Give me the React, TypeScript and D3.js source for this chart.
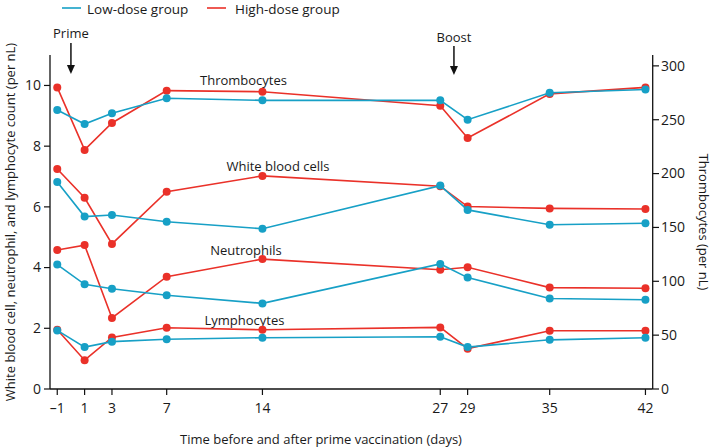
import React from "react";
import * as d3 from "d3";

const days = [-1, 1, 3, 7, 14, 27, 29, 35, 42];
const xTicks = [-1, 1, 3, 7, 14, 27, 29, 35, 42];
const leftTicks = [0, 2, 4, 6, 8, 10];
const rightTicks = [0, 50, 100, 150, 200, 250, 300];

const thrombLow = [259, 246, 256, 270, 268, 268, 250, 275, 278];
const thrombHigh = [280, 222, 247, 277, 276, 263, 233, 274, 280];
const wbcLow = [6.82, 5.68, 5.73, 5.51, 5.28, 6.70, 5.90, 5.41, 5.46];
const wbcHigh = [7.25, 6.30, 4.78, 6.50, 7.02, 6.68, 6.01, 5.95, 5.93];
const neutLow = [4.10, 3.45, 3.30, 3.09, 2.82, 4.12, 3.67, 2.98, 2.94];
const neutHigh = [4.58, 4.74, 2.34, 3.70, 4.28, 3.93, 4.01, 3.34, 3.32];
const lymphLow = [1.93, 1.38, 1.56, 1.64, 1.69, 1.72, 1.38, 1.62, 1.69];
const lymphHigh = [1.95, 0.95, 1.70, 2.02, 1.95, 2.03, 1.33, 1.92, 1.92];

const LOW = "#17a0c6";
const HIGH = "#ea3129";
const FONT = "'Open Sans', 'DejaVu Sans', sans-serif";
const TXT = "#1a1a1a";

export default function App() {
  const W = 712, H = 448;
  const x = d3.scaleLinear().domain([-1.53, 42.53]).range([50, 652.7]);
  const yL = d3.scaleLinear().domain([0, 11]).range([389, 55.1]);
  const yR = d3.scaleLinear().domain([0, 310]).range([389, 55.1]);

  const series: { vals: number[]; y: d3.ScaleLinear<number, number>; color: string }[] = [
    { vals: thrombLow, y: yR, color: LOW },
    { vals: thrombHigh, y: yR, color: HIGH },
    { vals: wbcLow, y: yL, color: LOW },
    { vals: wbcHigh, y: yL, color: HIGH },
    { vals: neutLow, y: yL, color: LOW },
    { vals: neutHigh, y: yL, color: HIGH },
    { vals: lymphLow, y: yL, color: LOW },
    { vals: lymphHigh, y: yL, color: HIGH },
  ];

  const order = [1, 0, 3, 2, 5, 4, 7, 6];

  return (
    <svg width={W} height={H} style={{ position: "absolute", left: 0, top: 0 }} fontFamily={FONT}>
      <rect width={W} height={H} fill="#fff" />
      {/* legend */}
      <line x1={62} x2={81} y1={8} y2={8} stroke={LOW} strokeWidth={1.6} />
      <text x={87} y={9} dy="0.35em" fontSize={13.5} fill={TXT}>Low-dose group</text>
      <line x1={207} x2={226} y1={8} y2={8} stroke={HIGH} strokeWidth={1.6} />
      <text x={235} y={9} dy="0.35em" fontSize={13.5} fill={TXT}>High-dose group</text>

      {/* axes */}
      <line x1={50} x2={50} y1={55.1} y2={389} stroke="#111" strokeWidth={1.3} />
      <line x1={652.7} x2={652.7} y1={55.1} y2={389} stroke="#111" strokeWidth={1.3} />
      <line x1={50} x2={652.7} y1={389} y2={389} stroke="#111" strokeWidth={1.3} />
      {leftTicks.map((t) => (
        <g key={"l" + t}>
          <line x1={44} x2={50} y1={yL(t)} y2={yL(t)} stroke="#111" strokeWidth={1.2} />
          <text x={41} y={yL(t)} dy="0.35em" textAnchor="end" fontSize={14} fill={TXT}>{t}</text>
        </g>
      ))}
      {rightTicks.map((t) => (
        <g key={"r" + t}>
          <line x1={652.7} x2={659} y1={yR(t)} y2={yR(t)} stroke="#111" strokeWidth={1.2} />
          <text x={661} y={yR(t)} dy="0.35em" textAnchor="start" fontSize={14} fill={TXT}>{t}</text>
        </g>
      ))}
      {xTicks.map((t) => (
        <g key={"x" + t}>
          <line x1={x(t)} x2={x(t)} y1={389} y2={395} stroke="#111" strokeWidth={1.2} />
          <text x={x(t)} y={408} dy="0.35em" textAnchor="middle" fontSize={14} fill={TXT}>{t < 0 ? "\u2013" + Math.abs(t) : t}</text>
        </g>
      ))}
      <text x={321} y={439} dy="0.35em" textAnchor="middle" fontSize={13} fill={TXT}>Time before and after prime vaccination (days)</text>
      <text transform={`translate(10,222) rotate(-90)`} dy="0.35em" textAnchor="middle" fontSize={13} fill={TXT}>White blood cell, neutrophil, and lymphocyte count (per nL)</text>
      <text transform={`translate(704,222) rotate(90)`} dy="0.35em" textAnchor="middle" fontSize={13} fill={TXT}>Thrombocytes (per nL)</text>

      {/* annotations */}
      <text x={x(0)} y={33} dy="0.35em" textAnchor="middle" fontSize={13} fill={TXT}>Prime</text>
      <line x1={x(0)} x2={x(0)} y1={43} y2={66} stroke="#111" strokeWidth={1.5} />
      <path d={`M${x(0) - 4},${65} L${x(0) + 4},${65} L${x(0)},${74} Z`} fill="#111" />
      <text x={x(28)} y={37} dy="0.35em" textAnchor="middle" fontSize={13} fill={TXT}>Boost</text>
      <line x1={x(28)} x2={x(28)} y1={46} y2={67} stroke="#111" strokeWidth={1.5} />
      <path d={`M${x(28) - 4},${66} L${x(28) + 4},${66} L${x(28)},${75} Z`} fill="#111" />

      <text x={243.5} y={80} dy="0.35em" textAnchor="middle" fontSize={13} fill={TXT}>Thrombocytes</text>
      <text x={278} y={166} dy="0.35em" textAnchor="middle" fontSize={13} fill={TXT}>White blood cells</text>
      <text x={246} y={250} dy="0.35em" textAnchor="middle" fontSize={13} fill={TXT}>Neutrophils</text>
      <text x={244.5} y={320} dy="0.35em" textAnchor="middle" fontSize={13} fill={TXT}>Lymphocytes</text>

      {order.map((i) => {
        const s = series[i];
        const line = d3.line<number>().x((_, j) => x(days[j])).y((v) => s.y(v));
        return (
          <g key={"s" + i}>
            <path d={line(s.vals) || ""} fill="none" stroke={s.color} strokeWidth={1.6} />
            {s.vals.map((v, j) => (
              <circle key={j} cx={x(days[j])} cy={s.y(v)} r={4} fill={s.color} />
            ))}
          </g>
        );
      })}
    </svg>
  );
}
